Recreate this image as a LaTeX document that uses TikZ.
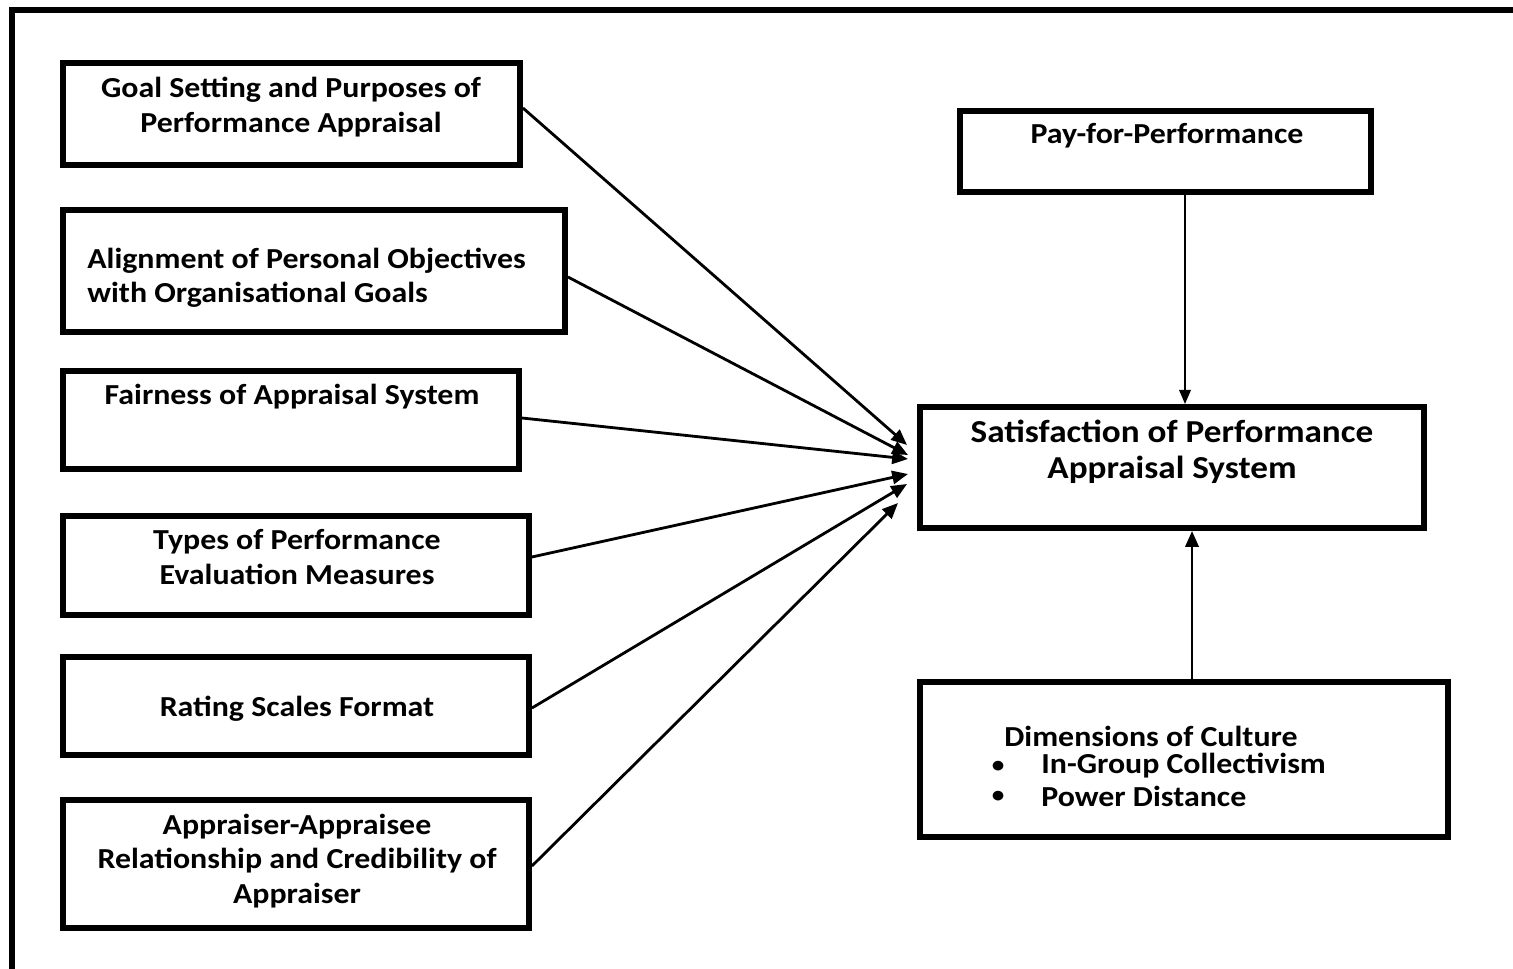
\documentclass[tikz,border=0pt]{standalone}
\usepackage{fontspec}
\setmainfont{Carlito}[FakeStretch=1.1]
\usetikzlibrary{arrows.meta}
\begin{document}
\begin{tikzpicture}[x=0.02cm, y=-0.02cm,
  box/.style={draw, line width=3.4pt, inner sep=0pt},
  lbl/.style={font=\bfseries\fontsize{16.5}{19.5}\selectfont, align=center, inner sep=0pt},
  biglbl/.style={font=\bfseries\fontsize{18.2}{20.5}\selectfont, align=center, inner sep=0pt},
  arr/.style={-{Triangle[length=9pt,width=7.5pt]}, line width=1.6pt},
  varr/.style={-{Triangle[length=8pt,width=6.5pt]}, line width=1.2pt}]
\useasboundingbox (0,0) rectangle (1513,969);

% partial outer frame (left and top edges)
\draw[line width=3.4pt] (12,969) -- (12,10) -- (1513,10);

% left column of factors
\node[box, minimum width=9.14cm, minimum height=2.04cm] (goal) at (291.5,114) {};
\node[lbl] (goalT) at (291,107) {Goal Setting and Purposes of\\Performance Appraisal};

\node[box, minimum width=10.04cm, minimum height=2.44cm] (align) at (314,271) {};
\node[lbl, align=left, anchor=west] (alignT) at (87,278) {Alignment of Personal Objectives\\with Organisational Goals};

\node[box, minimum width=9.12cm, minimum height=1.96cm] (fair) at (291,420) {};
\node[lbl] (fairT) at (292,397) {Fairness of Appraisal System};

\node[box, minimum width=9.32cm, minimum height=1.98cm] (types) at (296,565.5) {};
\node[lbl] (typesT) at (297,557) {Types of Performance\\Evaluation Measures};

\node[box, minimum width=9.32cm, minimum height=1.96cm] (rating) at (296,706) {};
\node[lbl] (ratingT) at (297,709) {Rating Scales Format};

\node[box, minimum width=9.32cm, minimum height=2.56cm] (rel) at (296,864) {};
\node[lbl] (relT) at (297,861) {Appraiser-Appraisee\\Relationship and Credibility of\\Appraiser};

% right column
\node[box, minimum width=8.22cm, minimum height=1.62cm] (pay) at (1165.5,151.5) {};
\node[lbl] (payT) at (1167,136) {Pay-for-Performance};

\node[box, minimum width=10.08cm, minimum height=2.42cm] (sat) at (1172,467.5) {};
\node[biglbl] (satT) at (1172,452) {Satisfaction of Performance\\Appraisal System};

\node[box, minimum width=10.56cm, minimum height=3.10cm] (dim) at (1184,759.5) {};
\node[lbl, anchor=west] (dimT) at (1004,736) {Dimensions of Culture};
\node[lbl, font=\bfseries\fontsize{13}{15}\selectfont] (dimB1) at (998,767) {\textbullet};
\node[lbl, anchor=west] (dimI1) at (1041,766) {In-Group Collectivism};
\node[lbl, font=\bfseries\fontsize{13}{15}\selectfont] (dimB2) at (998,797) {\textbullet};
\node[lbl, anchor=west] (dimI2) at (1041,796) {Power Distance};

% arrow targets at the left of the outcome box
\coordinate (t1) at (907,445);
\coordinate (t2) at (908,455);
\coordinate (t3) at (908,459);
\coordinate (t4) at (908,474);
\coordinate (t5) at (907,484);
\coordinate (t6) at (898,503);

\draw[arr] (goal.east |- 0,108) -- (t1);
\draw[arr] (align.east |- 0,277) -- (t2);
\draw[arr] (fair.east |- 0,418) -- (t3);
\draw[arr] (types.east |- 0,557) -- (t4);
\draw[arr] (rating.east |- 0,708) -- (t5);
\draw[arr] (rel.east |- 0,866) -- (t6);

\draw[varr] (pay.south -| 1185,0) -- (sat.north -| 1185,0);
\draw[arr] (dim.north -| 1192,0) -- (sat.south -| 1192,0);
\end{tikzpicture}
\end{document}
